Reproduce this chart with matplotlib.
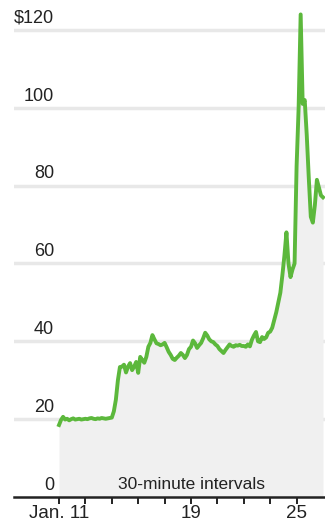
import matplotlib
matplotlib.use("Agg")
import matplotlib.pyplot as plt
import numpy as np

# 30-minute closing prices, 13 intervals per trading day, plus the final close
jan11 = [18.5, 19.8, 20.6, 19.9, 20.1, 19.7, 20.0, 20.2, 19.9, 20.0, 20.1, 19.9, 20.0]
jan12 = [20.1, 20.0, 20.2, 20.3, 20.1, 20.0, 20.2, 20.1, 20.3, 20.2, 20.1, 20.2, 20.3]
jan13 = [20.4, 22.0, 25.0, 30.0, 33.4, 33.5, 34.0, 32.0, 33.5, 34.4, 32.6, 33.5, 34.7]
jan14 = [31.9, 36.0, 35.2, 34.5, 36.0, 38.6, 39.6, 41.6, 40.5, 39.5, 39.3, 39.0, 39.2]
jan15 = [39.6, 38.5, 37.3, 36.5, 35.5, 35.2, 35.8, 36.3, 37.0, 36.5, 35.7, 36.5, 38.0]
jan19 = [38.6, 40.2, 39.5, 38.3, 39.0, 39.6, 40.8, 42.2, 41.5, 40.5, 40.0, 39.8, 39.2]
jan20 = [38.8, 38.0, 37.5, 37.0, 37.8, 38.5, 39.2, 38.8, 38.6, 39.0, 38.9, 39.1, 38.8]
jan21 = [38.8, 38.6, 39.2, 38.7, 40.4, 41.5, 42.4, 40.0, 39.8, 41.1, 40.6, 41.0, 42.2]
jan22 = [42.5, 43.5, 45.5, 47.5, 50.0, 52.5, 57.0, 62.0, 68.0, 60.0, 56.5, 58.5, 60.0]
jan25 = [85.0, 100.0, 124.0, 101.0, 102.0, 93.0, 82.0, 72.0, 70.5, 75.0, 81.5, 79.5, 77.5]
final_close = [77.0]

tick_days = ["Jan. 11", "12", "13", "14", "15", "19", "20", "21", "22", "25"]
tick_labels = ["Jan. 11", "", "", "", "", "19", "", "", "", "25"]
y_ticks = [0, 20, 40, 60, 80, 100, 120]
y_labels = ["0", "20", "40", "60", "80", "100", "$120"]

prices = np.array(jan11 + jan12 + jan13 + jan14 + jan15 + jan19 + jan20 + jan21 + jan22 + jan25 + final_close)
x = np.arange(len(prices)) / 13.0

FONT = ["Liberation Sans Narrow", "Liberation Sans", "DejaVu Sans"]

fig = plt.figure(figsize=(3.25, 5.30), dpi=100)
ax = fig.add_axes([14 / 325, 33 / 530, 311 / 325, 0.9252])
ax.set_xlim(-1.705, 10.076)
ax.set_ylim(0, 126)

for v in y_ticks[1:]:
    ax.axhline(v, color="#e8e8e8", lw=2.5, zorder=0)

ax.fill_between(x, 0, prices, color="#f0f0f0", lw=0, zorder=1)
ax.plot(x, prices, color="#5cb83c", lw=2.8, zorder=3, solid_joinstyle="round")

for v, lab in zip(y_ticks, y_labels):
    ax.text(-0.19, v + 3.0, lab, ha="right", va="center", fontsize=13,
            color="#222222", family=FONT, zorder=4)

ax.text(5.0, 3.3, "30-minute intervals", ha="center", va="center", fontsize=12.5,
        color="#222222", family=FONT, zorder=4)

for s in ["top", "right", "left"]:
    ax.spines[s].set_visible(False)
ax.spines["bottom"].set_color("#222222")
ax.spines["bottom"].set_linewidth(1.8)
ax.set_yticks([])
ax.set_xticks(np.arange(len(tick_days)))
ax.set_xticklabels(tick_labels, fontsize=13.5, color="#222222", family=FONT)
ax.tick_params(axis="x", length=5, width=1.4, color="#222222", pad=1)

fig.savefig("out.png", dpi=100)
